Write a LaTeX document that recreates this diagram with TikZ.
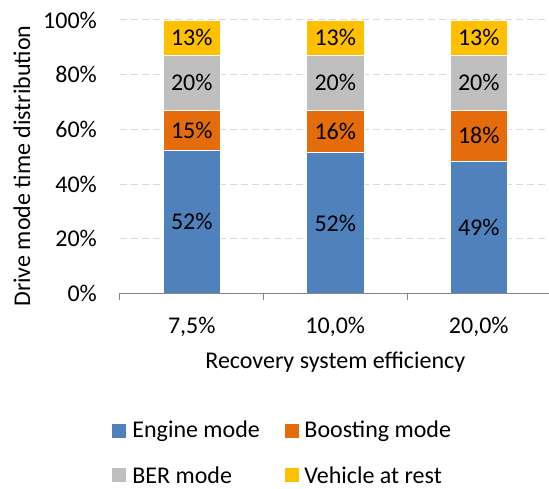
\documentclass[tikz,border=0pt]{standalone}
\usepackage{fontspec}
\setmainfont{Carlito}
\usepackage{tikz}
\usetikzlibrary{positioning}

\definecolor{engineblue}{HTML}{4F81BD}
\definecolor{boostorange}{HTML}{E46C0A}
\definecolor{bergray}{HTML}{BFBFBF}
\definecolor{restyellow}{HTML}{FFC000}
\definecolor{axisgray}{HTML}{868686}
\definecolor{gridgray}{HTML}{D9D9D9}

\tikzset{
  bar/.style={fill=#1, draw=white, line width=0.6pt},
  lbl/.style={font=\fontsize{24}{28}\selectfont, inner sep=0pt},
  gridline/.style={gridgray, line width=1pt, dash pattern=on 7pt off 4pt},
  axisline/.style={axisgray, line width=1pt},
  legbox/.style={minimum size=14pt, inner sep=0pt, draw=none}
}

\begin{document}
\begin{tikzpicture} [x=143.5pt, y=2.735pt]
     \useasboundingbox (-0.8362,-71.115) rectangle (2.9895,107.31);

     \foreach \v in {20,40,60,80,100}
       \draw [gridline] (0,\v) -- (2.9895,\v);

     \draw [bar=engineblue] (0.3,0) rectangle (0.7,52.5);
     \draw [bar=boostorange] (0.3,52.5) rectangle (0.7,67);
     \draw [bar=bergray] (0.3,67) rectangle (0.7,87);
     \draw [bar=restyellow] (0.3,87) rectangle (0.7,100);

     \draw [bar=engineblue] (1.3,0) rectangle (1.7,51.5);
     \draw [bar=boostorange] (1.3,51.5) rectangle (1.7,67);
     \draw [bar=bergray] (1.3,67) rectangle (1.7,87);
     \draw [bar=restyellow] (1.3,87) rectangle (1.7,100);

     \draw [bar=engineblue] (2.3,0) rectangle (2.7,48.5);
     \draw [bar=boostorange] (2.3,48.5) rectangle (2.7,67);
     \draw [bar=bergray] (2.3,67) rectangle (2.7,87);
     \draw [bar=restyellow] (2.3,87) rectangle (2.7,100);

     \node [lbl] (e1) at (0.5,26.25) {52\%};
     \node [lbl] (b1) at (0.5,59.75) {15\%};
     \node [lbl] (g1) at (0.5,77) {20\%};
     \node [lbl] (r1) at (0.5,93.5) {13\%};
     \node [lbl] (e2) at (1.5,25.75) {52\%};
     \node [lbl] (b2) at (1.5,59.25) {16\%};
     \node [lbl] (g2) at (1.5,77) {20\%};
     \node [lbl] (r2) at (1.5,93.5) {13\%};
     \node [lbl] (e3) at (2.5,24.25) {49\%};
     \node [lbl] (b3) at (2.5,57.75) {18\%};
     \node [lbl] (g3) at (2.5,77) {20\%};
     \node [lbl] (r3) at (2.5,93.5) {13\%};

     \draw [axisline] (0,0) -- (2.9895,0);
     \draw [axisline] (0,0) -- (0,-2.2);
     \draw [axisline] (1,0) -- (1,-2.2);
     \draw [axisline] (2,0) -- (2,-2.2);

     \foreach \v in {0,20,40,60,80,100}
       \node [lbl, anchor=east] (y\v) at (-0.16,\v) {\v\%};

     \node [lbl] (x1) at (0.5,-12.25) {7,5\%};
     \node [lbl] (x2) at (1.5,-12.25) {10,0\%};
     \node [lbl] (x3) at (2.5,-12.25) {20,0\%};

     \node [lbl] (xtitle) at (1.5,-25.05) {Recovery system efficiency};
     \node [lbl, rotate=90] (ytitle) at (-0.683,46.6) {Drive mode time distribution};

     \node [legbox, fill=engineblue] (kEngine) at (-0.007,-50.3) {};
     \node [lbl, right=6pt of kEngine] (tEngine) {Engine mode};
     \node [legbox, fill=boostorange] (kBoost) at (1.199,-50.3) {};
     \node [lbl, right=5pt of kBoost] (tBoost) {Boosting mode};
     \node [legbox, fill=bergray] (kBer) at (-0.007,-66.5) {};
     \node [lbl, right=6pt of kBer] (tBer) {BER mode};
     \node [legbox, fill=restyellow] (kRest) at (1.199,-66.5) {};
     \node [lbl, right=5pt of kRest] (tRest) {Vehicle at rest};
		\end{tikzpicture}
\end{document}
